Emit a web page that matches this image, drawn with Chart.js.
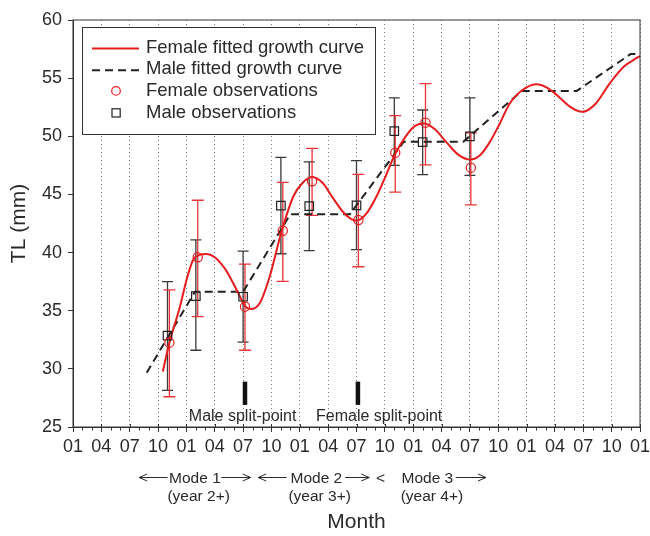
<!DOCTYPE html>
<html>
<head>
<meta charset="utf-8">
<script src="https://cdn.jsdelivr.net/npm/chart.js@4.4.1/dist/chart.umd.min.js"></script>
<style>
html,body{margin:0;padding:0;background:#fff;}
#c{display:block;}
</style>
</head>
<body>
<canvas id="c" width="650" height="536"></canvas>
<script>
// ---------- DATA (months counted from January of year 1) ----------
const tickValues = [0,3,6,9,12,15,18,21,24,27,30,33,36,39,42,45,48,51,54,57,60];
const tickLabels = ['01','04','07','10','01','04','07','10','01','04','07','10','01','04','07','10','01','04','07','10','01'];

const maleObsMonth   = [10, 13, 18, 22, 25, 30, 34, 37, 42];
const maleMean       = [32.85, 36.26, 36.2, 44.03, 44.0, 44.06, 50.45, 49.5, 50.0];
const maleLow        = [28.15, 31.6, 32.3, 39.9, 40.16, 40.25, 47.5, 46.7, 46.64];
const maleHigh       = [37.5, 41.1, 40.13, 48.19, 47.8, 47.9, 53.3, 52.26, 53.3];

const femaleObsMonth = [10.2, 13.2, 18.2, 22.2, 25.3, 30.2, 34.1, 37.3, 42.1];
const femaleMean     = [32.25, 39.6, 35.35, 41.88, 46.13, 42.8, 48.59, 51.17, 47.3];
const femaleLow      = [27.6, 34.5, 31.6, 37.53, 43.2, 38.78, 45.2, 47.55, 44.1];
const femaleHigh     = [36.8, 44.5, 39.0, 46.04, 48.96, 46.73, 51.77, 54.52, 50.3];

const femaleCurveMonth = [9.5,10.2,11.3,12.0,12.7,13.4,14.1,15.0,16.0,16.6,17.5,18.2,18.9,19.8,20.8,22.1,23.3,24.3,25.3,26.4,27.5,28.8,30.0,31.0,32.1,33.1,34.1,35.3,36.2,37.2,38.3,39.5,40.8,42.0,43.1,44.1,45.1,46.2,47.6,49.1,50.1,51.2,52.5,53.9,55.3,56.8,58.3,59.8,60];
const femaleCurveTL    = [29.76,32.25,35.3,37.6,39.36,39.8,39.87,39.6,38.7,37.9,36.5,35.4,35.15,35.7,37.9,41.9,44.8,46.0,46.5,46.0,44.7,43.3,42.74,43.3,44.8,46.6,48.5,50.1,50.9,51.1,50.6,49.5,48.4,48.0,48.4,49.5,51.0,52.8,54.0,54.47,54.2,53.55,52.6,52.1,52.8,54.55,56.0,56.8,56.9];

const maleCurveMonth = [7.8, 12.9, 18.0, 23.0, 29.3, 35.0, 41.3, 47.5, 53.3, 59.0, 60];
const maleCurveTL    = [29.67, 36.63, 36.63, 43.3, 43.3, 49.53, 49.53, 53.9, 53.9, 57.07, 57.07];

const splitMonths = [18.2, 30.15];
const splitNames  = ['Male split-point', 'Female split-point'];
const splitTextMonth = [17.95, 32.4];
const splitRange  = [26.9, 28.9];

const modeNames  = ['Mode 1', 'Mode 2', 'Mode 3'];
const modeCenter = [12.9, 25.75, 37.5];
const modeYears  = ['(year 2+)', '(year 3+)', '(year 4+)'];
const yearCenter = [13.3, 26.1, 37.98];

// ---------- STYLE ----------
const FONT = "'Liberation Sans', Arial, Helvetica, sans-serif";
const RED = 'rgb(230,28,30)';
const RED_ERR = 'rgb(234,52,56)';
const BLACK = '#222';
const INK = '#2a2a2a';

const pts = (xs, ys) => xs.map((x, i) => ({x: x, y: ys[i]}));

const datasets = [
  {label: 'Female fitted growth curve', data: pts(femaleCurveMonth, femaleCurveTL), showLine: true,
   borderColor: RED, borderWidth: 2, pointRadius: 0, cubicInterpolationMode: 'monotone', fill: false, order: 2},
  {label: 'Male fitted growth curve', data: pts(maleCurveMonth, maleCurveTL), showLine: true,
   borderColor: BLACK, borderWidth: 2, borderDash: [8, 5], pointRadius: 0, tension: 0, fill: false, order: 3},
  {label: 'Female observations', data: pts(femaleObsMonth, femaleMean), showLine: false,
   pointStyle: 'circle', pointRadius: 4.6, borderColor: RED, backgroundColor: 'rgba(0,0,0,0)', pointBorderWidth: 1.2, order: 0},
  {label: 'Male observations', data: pts(maleObsMonth, maleMean), showLine: false,
   pointStyle: 'rect', pointRadius: 6, borderColor: BLACK, backgroundColor: 'rgba(0,0,0,0)', pointBorderWidth: 1.2, order: 1},
];
splitMonths.forEach((m, i) => datasets.push({
  label: 'split' + i, data: [{x: m, y: splitRange[0]}, {x: m, y: splitRange[1]}], showLine: true,
  borderColor: '#111', borderWidth: 4.5, borderCapStyle: 'butt', pointRadius: 0, order: 4
}));

function arrow(ctx, x1, x2, y, head) {
  ctx.beginPath();
  ctx.moveTo(x1, y); ctx.lineTo(x2, y);
  const tip = head === 'left' ? x1 : x2;
  const d = head === 'left' ? 8 : -8;
  ctx.moveTo(tip + d, y - 3.5); ctx.lineTo(tip, y); ctx.lineTo(tip + d, y + 3.5);
  ctx.stroke();
}

const deco = {
  id: 'deco',
  beforeDatasetsDraw(chart) {
    const ctx = chart.ctx, xs = chart.scales.x, ys = chart.scales.y;
    const ca = chart.chartArea;
    ctx.save();
    ctx.beginPath(); ctx.rect(ca.left, ca.top, ca.right - ca.left, ca.bottom - ca.top); ctx.clip();
    const bars = (mx, lo, hi, color, cap) => {
      ctx.strokeStyle = color; ctx.lineWidth = 1.3;
      mx.forEach((m, i) => {
        const x = xs.getPixelForValue(m), y1 = ys.getPixelForValue(lo[i]), y2 = ys.getPixelForValue(hi[i]);
        ctx.beginPath();
        ctx.moveTo(x, y1); ctx.lineTo(x, y2);
        ctx.moveTo(x - cap, y1); ctx.lineTo(x + cap, y1);
        ctx.moveTo(x - cap, y2); ctx.lineTo(x + cap, y2);
        ctx.stroke();
      });
    };
    bars(maleObsMonth, maleLow, maleHigh, '#3a3a3a', 5.5);
    bars(femaleObsMonth, femaleLow, femaleHigh, RED_ERR, 6);
    ctx.restore();
  },
  afterDraw(chart) {
    const ctx = chart.ctx, xs = chart.scales.x, ys = chart.scales.y;
    const ca = chart.chartArea;
    ctx.save();
    // frame
    ctx.strokeStyle = '#333'; ctx.lineWidth = 1;
    ctx.strokeRect(ca.left, ca.top, ca.right - ca.left, ca.bottom - ca.top);
    // minor / inner ticks on month scale
    ctx.beginPath();
    for (let m = 0; m <= 60; m++) {
      const x = Math.round(xs.getPixelForValue(m)) + 0.5;
      if (m % 3 === 0) { ctx.moveTo(x, ca.bottom - 3); ctx.lineTo(x, ca.bottom); }
      else { ctx.moveTo(x, ca.bottom); ctx.lineTo(x, ca.bottom + 3.5); }
    }
    ctx.stroke();
    // split-point labels
    ctx.fillStyle = INK;
    ctx.font = '16px ' + FONT;
    ctx.textAlign = 'center'; ctx.textBaseline = 'alphabetic';
    splitNames.forEach((t, i) => ctx.fillText(t, xs.getPixelForValue(splitTextMonth[i]), 420.5));
    // mode labels below axis
    ctx.font = '15.5px ' + FONT;
    ctx.lineWidth = 1; ctx.strokeStyle = INK;
    const yMode = 483, yArrow = 477.5;
    modeNames.forEach((t, i) => ctx.fillText(t, xs.getPixelForValue(modeCenter[i]), yMode));
    arrow(ctx, xs.getPixelForValue(7.0), xs.getPixelForValue(10.0), yArrow, 'left');
    arrow(ctx, xs.getPixelForValue(15.7), xs.getPixelForValue(18.8), yArrow, 'right');
    arrow(ctx, xs.getPixelForValue(19.6), xs.getPixelForValue(22.6), yArrow, 'left');
    arrow(ctx, xs.getPixelForValue(28.8), xs.getPixelForValue(31.35), yArrow, 'right');
    arrow(ctx, xs.getPixelForValue(40.5), xs.getPixelForValue(43.7), yArrow, 'right');
    ctx.fillText('<', xs.getPixelForValue(32.55), yMode);
    modeYears.forEach((t, i) => ctx.fillText(t, xs.getPixelForValue(yearCenter[i]), 501));
    // legend
    const L = {x: 82, y: 27, w: 293, h: 107};
    ctx.fillStyle = '#fff';
    ctx.fillRect(L.x, L.y, L.w, L.h);
    ctx.strokeStyle = '#333'; ctx.lineWidth = 1;
    ctx.strokeRect(L.x + 0.5, L.y + 0.5, L.w, L.h);
    ctx.font = '18.5px ' + FONT; ctx.textAlign = 'left'; ctx.textBaseline = 'middle';
    for (let i = 0; i < 4; i++) {
      const ds = chart.data.datasets[i];
      const y = 47.5 + i * 21.7;
      ctx.save();
      ctx.strokeStyle = ds.borderColor;
      if (i < 2) {
        ctx.lineWidth = ds.borderWidth;
        ctx.setLineDash(ds.borderDash || []);
        ctx.beginPath(); ctx.moveTo(92, y + 1); ctx.lineTo(139, y + 1); ctx.stroke();
      } else if (i === 2) {
        ctx.lineWidth = 1.2;
        ctx.beginPath(); ctx.arc(116, y, 4.3, 0, Math.PI * 2); ctx.stroke();
      } else {
        ctx.lineWidth = 1.2;
        ctx.strokeRect(112, y - 3.8, 8.2, 8.2);
      }
      ctx.restore();
      ctx.fillStyle = INK;
      ctx.fillText(ds.label, 146, y);
    }
    ctx.restore();
  }
};

new Chart(document.getElementById('c'), {
  type: 'scatter',
  data: {datasets: datasets},
  options: {
    responsive: false,
    animation: false,
    layout: {padding: {left: 0, right: 10, top: 20, bottom: 0}},
    plugins: {legend: {display: false}, tooltip: {enabled: false}},
    scales: {
      x: {
        type: 'linear', min: 0, max: 60,
        afterBuildTicks: s => { s.ticks = tickValues.map(v => ({value: v})); },
        afterFit: s => { s.height = 109; s.paddingLeft = 0; s.paddingRight = 0; },
        ticks: {autoSkip: false, maxRotation: 0, minRotation: 0, padding: 4, color: INK,
                font: {family: FONT, size: 18}, callback: (v, i) => tickLabels[i]},
        grid: {color: '#777', lineWidth: 1, drawTicks: true, tickLength: 5, tickColor: '#333'},
        border: {display: true, color: '#333', width: 1, dash: [1, 3]},
        title: {display: true, text: 'Month', color: INK, font: {family: FONT, size: 21}, padding: {top: 0, bottom: 1.5}}
      },
      y: {
        type: 'linear', min: 25, max: 60,
        afterFit: s => { s.width = 73; s.paddingTop = 0; s.paddingBottom = 0; },
        ticks: {stepSize: 5, padding: 6, color: INK, font: {family: FONT, size: 18}},
        grid: {drawOnChartArea: false, drawTicks: true, tickLength: 5, tickColor: '#333'},
        border: {display: true, color: '#333', width: 1},
        title: {display: true, text: 'TL (mm)', color: INK, font: {family: FONT, size: 21}, padding: {top: 7, bottom: 0}}
      }
    }
  },
  plugins: [deco]
});
</script>
</body>
</html>
